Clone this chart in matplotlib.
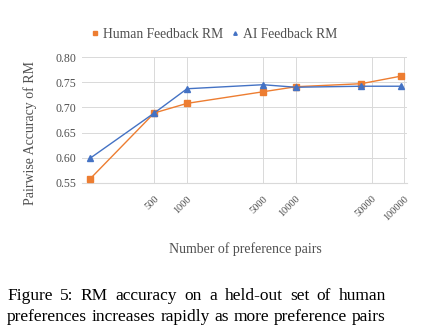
import matplotlib
matplotlib.use("Agg")
import matplotlib.pyplot as plt
from matplotlib.lines import Line2D

pairs = [128, 500, 1000, 5000, 10000, 40000, 92858]
human_rm = [0.558, 0.689, 0.708, 0.731, 0.741, 0.747, 0.762]
ai_rm = [0.599, 0.689, 0.737, 0.745, 0.740, 0.742, 0.742]
xticks = [500, 1000, 5000, 10000, 50000, 100000]
xticklabels = ["500", "1000", "5000", "10000", "50000", "100000"]
yticks = [0.55, 0.60, 0.65, 0.70, 0.75, 0.80]
caption_lines = ["Figure 5:  RM accuracy on a held-out set of human",
                 "preferences increases rapidly as more preference pairs"]

plt.rcParams['font.family'] = ['Liberation Serif', 'DejaVu Serif']
orange = '#ED7D31'
blue = '#4472C4'
grey = '#505050'

W, H = 421, 325
fig = plt.figure(figsize=(W/100, H/100), dpi=100)
ax = fig.add_axes([82/W, 1-183/H, (407-82)/W, (183-57)/H])
ax.set_xscale('log')
ax.set_xlim(108, 105700)
ax.set_ylim(0.55, 0.80)

ax.plot(pairs, human_rm, color=orange, lw=1.0, marker='s', ms=4.5, zorder=3)
ax.plot(pairs, ai_rm, color=blue, lw=1.0, marker='^', ms=5, zorder=4)

ax.set_xticks(xticks)
ax.set_xticklabels(xticklabels, rotation=45, ha='right', rotation_mode='anchor', fontsize=7.5, color=grey)
ax.xaxis.set_minor_locator(matplotlib.ticker.NullLocator())
ax.set_yticks(yticks)
ax.set_yticklabels([f"{v:.2f}" for v in yticks], fontsize=8.5, color=grey)
ax.tick_params(length=0, pad=4)
ax.tick_params(axis='x', pad=8)
ax.grid(True, color='#D9D9D9', lw=0.7)
for s in ['top', 'right', 'left']:
    ax.spines[s].set_visible(False)
ax.spines['bottom'].set_color('#D9D9D9')
ax.spines['bottom'].set_linewidth(0.8)

fig.text(30/W, 1-133/H, "Pairwise Accuracy of RM", rotation=90, ha='center', va='center', fontsize=10, color=grey)
fig.text(245/W, 1-249/H, "Number of preference pairs", ha='center', va='center', fontsize=10, color=grey)

handles = [Line2D([], [], color=orange, marker='s', ls='none', ms=2.5),
           Line2D([], [], color=blue, marker='^', ls='none', ms=2.5)]
fig.legend(handles, ["Human Feedback RM", "AI Feedback RM"], loc='center', bbox_to_anchor=(214/W, 1-34/H),
           ncol=2, frameon=False, fontsize=9.8, handlelength=0.6, handletextpad=0.3, columnspacing=0.6,
           labelcolor=grey)

# justified caption
renderer = fig.canvas.get_renderer()
x0, x1 = 7, 386
for line, yc in zip(caption_lines, [296, 317]):
    words = line.split()
    texts = [fig.text(0, 1-yc/H, w, ha='left', va='center', fontsize=12.5, color='black') for w in words]
    widths = [t.get_window_extent(renderer).width for t in texts]
    gap = (x1 - x0 - sum(widths)) / (len(words) - 1)
    x = x0
    for t, w in zip(texts, widths):
        t.set_x(x/W)
        x += w + gap

fig.savefig("out.png", dpi=100, facecolor='white')
